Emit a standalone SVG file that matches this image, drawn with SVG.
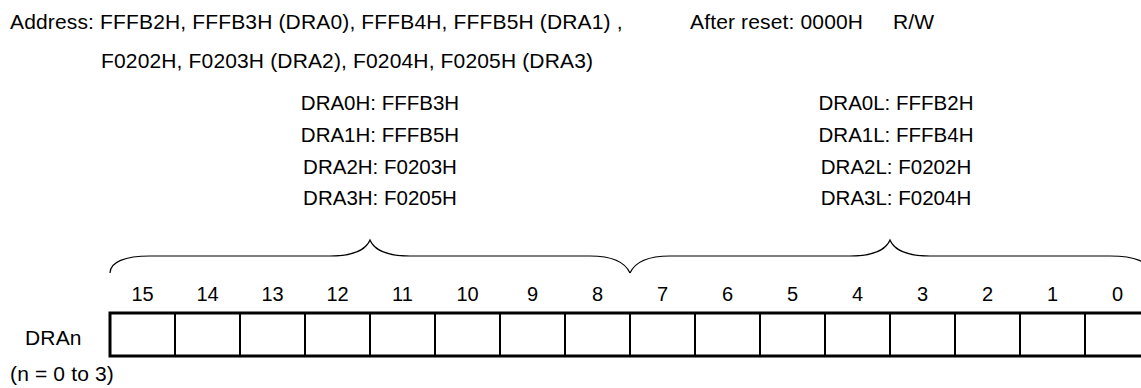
<svg xmlns="http://www.w3.org/2000/svg" width="1141" height="388" viewBox="0 0 1141 388">
<style>
text{font-family:"Liberation Sans",Arial,Helvetica,sans-serif;font-size:20.5px;fill:#000}
.h{font-size:21px;letter-spacing:0.15px}
.c{text-anchor:middle}
.d{text-anchor:middle;font-size:20px}
.brace{fill:none;stroke:#000;stroke-width:1.2}
.outer{fill:#fff;stroke:#000;stroke-width:3}
.div{stroke:#000;stroke-width:2}
</style>
<rect width="1141" height="388" fill="#fff"/>
<g id="header">
<text class="h" x="10" y="29">Address: FFFB2H, FFFB3H (DRA0), FFFB4H, FFFB5H (DRA1) ,</text>
<text class="h" x="690" y="29">After reset: 0000H</text>
<text class="h" x="893" y="29">R/W</text>
<text class="h" x="101" y="68">F0202H, F0203H (DRA2), F0204H, F0205H (DRA3)</text>
</g>
<g id="high-addresses">
<text class="c" x="380" y="110">DRA0H: FFFB3H</text>
<text class="c" x="380" y="142">DRA1H: FFFB5H</text>
<text class="c" x="380" y="174">DRA2H: F0203H</text>
<text class="c" x="380" y="205">DRA3H: F0205H</text>
</g>
<g id="low-addresses">
<text class="c" x="896" y="110">DRA0L: FFFB2H</text>
<text class="c" x="896" y="142">DRA1L: FFFB4H</text>
<text class="c" x="896" y="174">DRA2L: F0202H</text>
<text class="c" x="896" y="205">DRA3L: F0204H</text>
</g>
<g id="connectors">
<path class="brace" d="M110,273 C110,262 125,256 150,256 L330,256 C352,256 366,250 370,240 C374,250 388,256 410,256 L590,256 C612,256 625,262 630,273"/>
<path class="brace" d="M630,273 C635,262 648,256 670,256 L850,256 C872,256 886,250 890,240 C894,250 908,256 930,256 L1110,256 C1135,256 1150,262 1150,273"/>
</g>
<g id="bit-numbers">
<text class="d" x="142.5" y="301">15</text>
<text class="d" x="207.5" y="301">14</text>
<text class="d" x="272.5" y="301">13</text>
<text class="d" x="337.5" y="301">12</text>
<text class="d" x="402.5" y="301">11</text>
<text class="d" x="467.5" y="301">10</text>
<text class="d" x="532.5" y="301">9</text>
<text class="d" x="597.5" y="301">8</text>
<text class="d" x="662.5" y="301">7</text>
<text class="d" x="727.5" y="301">6</text>
<text class="d" x="792.5" y="301">5</text>
<text class="d" x="857.5" y="301">4</text>
<text class="d" x="922.5" y="301">3</text>
<text class="d" x="987.5" y="301">2</text>
<text class="d" x="1052.5" y="301">1</text>
<text class="d" x="1117.5" y="301">0</text>
</g>
<g id="register">
<rect class="outer" x="110" y="313" width="1040" height="43"/>
<path class="div" d="M175,313V356M240,313V356M305,313V356M370,313V356M435,313V356M500,313V356M565,313V356M630,313V356M695,313V356M760,313V356M825,313V356M890,313V356M955,313V356M1020,313V356M1085,313V356"/>
</g>
<g id="labels">
<text class="h" x="25" y="345">DRAn</text>
<text class="h" x="10" y="381">(n = 0 to 3)</text>
</g>
</svg>
